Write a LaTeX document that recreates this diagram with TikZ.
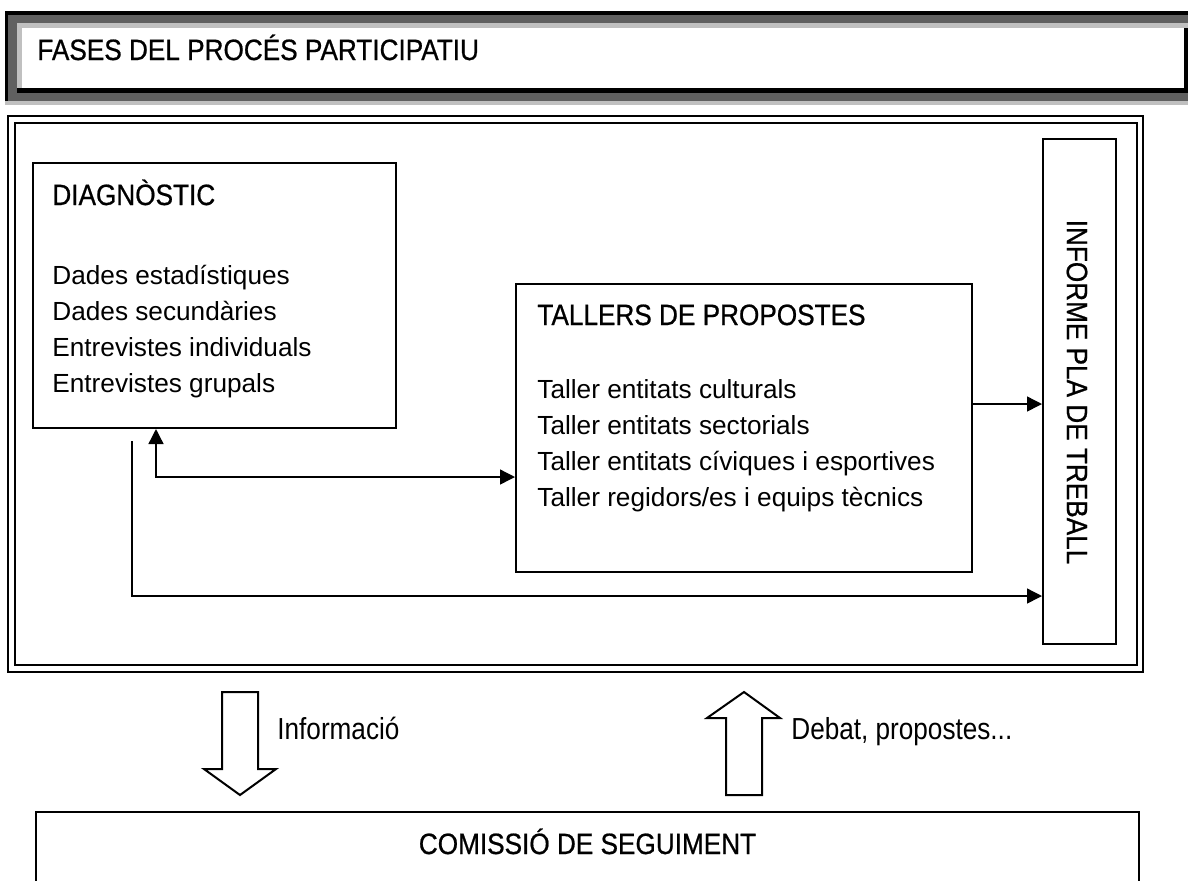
\documentclass[tikz,border=0pt]{standalone}
\usepackage{fontspec}
\setmainfont{Liberation Sans}
\newfontfamily\headfont[FakeStretch=0.89,FakeBold=0.7]{Liberation Sans}
\newfontfamily\narrowfont[FakeStretch=0.86]{Liberation Sans}
\usetikzlibrary{arrows.meta,fit}

\definecolor{shadedark}{HTML}{606060}
\definecolor{shadelight}{HTML}{C0C0C0}

\tikzset{
  box/.style={draw,line width=1pt,inner sep=0pt},
  head/.style={font=\headfont\fontsize{14.7}{18}\selectfont,inner sep=0pt,anchor=base west},
  side/.style={font=\narrowfont\fontsize{15.2}{18}\selectfont,inner sep=0pt,anchor=base west},
  list/.style={font=\fontsize{13.1}{18}\selectfont,inner sep=0pt,anchor=base west,align=left},
  link/.style={line width=0.7pt,-{Triangle[length=7.5pt,width=7.5pt]}},
  hollow/.style={draw,line width=1pt,fill=white}
}

\begin{document}
\begin{tikzpicture}[x=0.5pt,y=-0.5pt]
\useasboundingbox (0,0) rectangle (1188,880);

% title with shaded border
\fill[shadelight] (5,11) rectangle (1188,105);
\fill[shadedark] (5,11) rectangle (1188,101);
\fill[black] (5,11) rectangle (1188,15);
\fill[black] (5,11) rectangle (8,101);
\fill[shadelight] (17,23) rectangle (1188,88);
\fill[white] (22,28) rectangle (1184,88);
\fill[black] (1184,28) rectangle (1188,88);
\fill[black] (17,88) rectangle (1188,93);
\node[head] (title) at (37,60) {FASES DEL PROCÉS PARTICIPATIU};

% double frame
\draw[line width=0.9pt] (8,116) rectangle (1143,672);
\draw[line width=1.2pt] (15,123) rectangle (1137,665);

% boxes (list nodes sit on their last line)
\node[box,fit={(33,163) (396,428)}] (diag) {};
\node[head] (diagt) at (52,205) {DIAGNÒSTIC};
\node[list] (diagl) at (52,392) {Dades estadístiques\\Dades secundàries\\Entrevistes individuals\\Entrevistes grupals};

\node[box,fit={(516,284) (972,572)}] (tall) {};
\node[head] (tallt) at (537,325) {TALLERS DE PROPOSTES};
\node[list] (talll) at (537,506) {Taller entitats culturals\\Taller entitats sectorials\\Taller entitats cíviques i esportives\\Taller regidors/es i equips tècnics};

\node[box,fit={(1043,139) (1116,644)}] (inf) {};
\node[head,anchor=center,rotate=-90] (inft) at (1077,392) {INFORME PLA DE TREBALL};

% connectors
\coordinate (kA) at (156,477);
\coordinate (kB) at (132,596);
\coordinate (kBs) at (132,441);
\coordinate (kC) at (1000,404);
\draw[link,{Triangle[length=7.5pt,width=7.5pt]}-{Triangle[length=7.5pt,width=7.5pt]}] (diag.south -| kA) -- (kA) -- (kA -| tall.west);
\draw[link] (kBs) -- (kB) -- (kB -| inf.west);
\draw[link] (kC -| tall.east) -- (kC -| inf.west);

% block arrows
\draw[hollow] (222,692) -- (258,692) -- (258,769) -- (276,769) -- (240,795) -- (204,769) -- (222,769) -- cycle;
\node[side] (info) at (277,739) {Informació};
\draw[hollow] (726,795) -- (762,795) -- (762,718) -- (780,718) -- (744,692) -- (707,718) -- (726,718) -- cycle;
\node[side] (deb) at (791,739) {Debat, propostes...};

% follow-up committee
\node[box,fit={(36,812) (1139,884)}] (com) {};
\node[head,anchor=base] (comt) at (587.5,854) {COMISSIÓ DE SEGUIMENT};
\end{tikzpicture}
\end{document}
